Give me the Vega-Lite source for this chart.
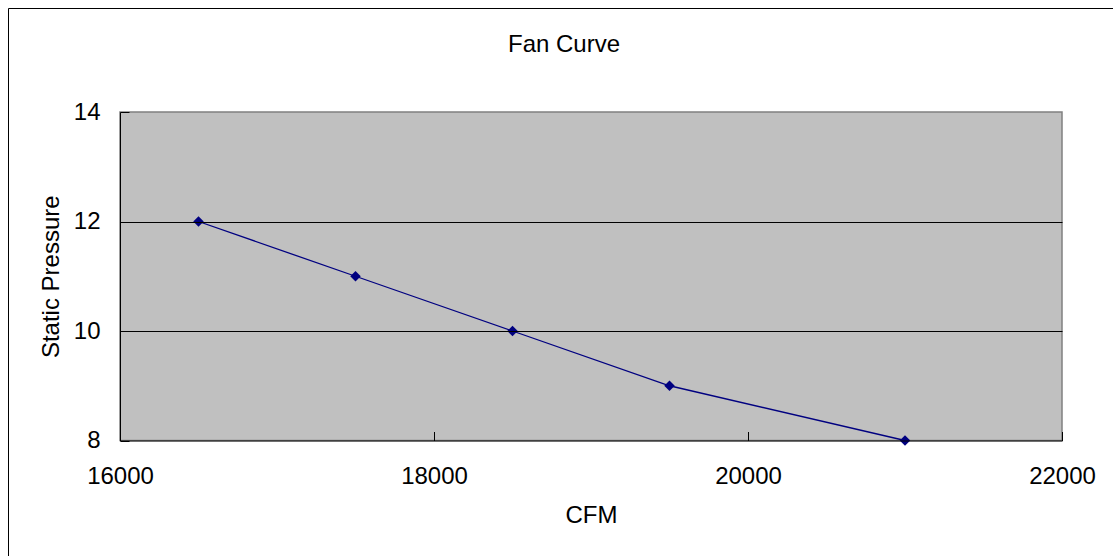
{
  "$schema": "https://vega.github.io/schema/vega-lite/v6.json",
  "width": 1106,
  "height": 549,
  "autosize": {"type": "none"},
  "padding": {"left": 8, "top": 8, "right": 0, "bottom": 0},
  "background": "white",
  "config": {
    "view": {"stroke": "#000000", "strokeWidth": 1},
    "font": "Liberation Sans"
  },
  "title": {
    "text": "Fan Curve",
    "fontSize": 24,
    "fontWeight": "normal",
    "font": "Liberation Sans",
    "color": "#000000",
    "anchor": "middle",
    "baseline": "alphabetic",
    "offset": 0,
    "dy": 68,
    "dx": 3
  },
  "data": {
    "values": [
      {"cfm": 16500, "sp": 12},
      {"cfm": 17500, "sp": 11},
      {"cfm": 18500, "sp": 10},
      {"cfm": 19500, "sp": 9},
      {"cfm": 21000, "sp": 8}
    ]
  },
  "layer": [
    {
      "data": {"values": [{}]},
      "mark": {"type": "rect", "fill": "#c0c0c0", "stroke": "#808080", "strokeWidth": 1.5},
      "encoding": {
        "x": {"datum": 16000, "type": "quantitative", "title": "CFM"},
        "x2": {"datum": 22000},
        "y": {"datum": 8, "type": "quantitative", "title": "Static Pressure"},
        "y2": {"datum": 14}
      }
    },
    {
      "encoding": {
        "x": {
          "field": "cfm",
          "type": "quantitative",
          "title": "CFM",
          "scale": {"domain": [16000, 22000], "range": [112, 1054], "nice": false, "zero": false},
          "axis": {
            "values": [16000, 18000, 20000, 22000],
            "format": "d",
            "offset": -116.5,
            "grid": false,
            "tickSize": -9,
            "tickColor": "#000000",
            "domainColor": "#000000",
            "labelPadding": 32.6,
            "labelFlush": false,
            "labelFontSize": 24,
            "labelColor": "#000000",
            "labelFont": "Liberation Sans",
            "titleFontSize": 24,
            "titleFontWeight": "normal",
            "titleColor": "#000000",
            "titleFont": "Liberation Sans",
            "titleY": 82.3,
            "titleBaseline": "alphabetic",
            "zindex": 1
          }
        },
        "y": {
          "field": "sp",
          "type": "quantitative",
          "title": "Static Pressure",
          "scale": {"domain": [8, 14], "range": [432.5, 104], "nice": false, "zero": false},
          "axis": {
            "values": [8, 10, 12, 14],
            "format": "d",
            "offset": -112,
            "grid": true,
            "gridColor": "#000000",
            "gridOpacity": {"condition": {"test": "datum.value === 8 || datum.value === 14", "value": 0}, "value": 1},
            "tickSize": -9,
            "tickColor": "#000000",
            "domainColor": "#000000",
            "labelPadding": 29,
            "labelFontSize": 24,
            "labelColor": "#000000",
            "labelFont": "Liberation Sans",
            "titleFontSize": 24,
            "titleFontWeight": "normal",
            "titleColor": "#000000",
            "titleFont": "Liberation Sans",
            "titleX": -62,
            "titleBaseline": "alphabetic",
            "zindex": 1
          }
        }
      },
      "layer": [
        {"mark": {"type": "line", "color": "#000080", "strokeWidth": 1.3}},
        {"mark": {"type": "point", "shape": "diamond", "filled": true, "color": "#000080", "size": 110, "opacity": 1}}
      ]
    }
  ]
}
